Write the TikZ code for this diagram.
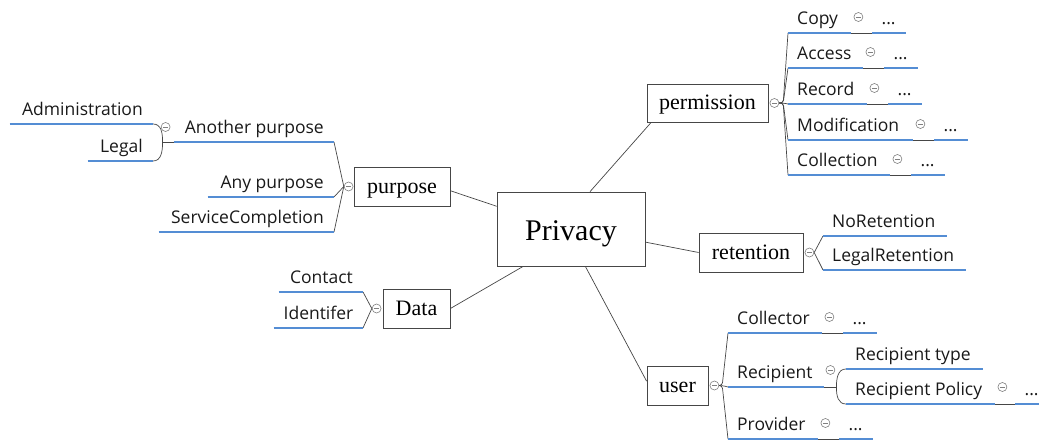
\documentclass[tikz,border=0pt]{standalone}
\usepackage{fontspec}
\setmainfont{Liberation Serif}
\newfontfamily\sansf{Open Sans}
\definecolor{ublue}{RGB}{84,141,212}
\definecolor{lgray}{RGB}{70,70,70}
\newcommand\rb[2]{\makebox[#1pt][r]{#2}}
\newcommand\lb[2]{\makebox[#1pt][l]{#2}}
\begin{document}
\begin{tikzpicture}[x=1pt,y=-1pt,
  box/.style={draw=lgray, line width=0.8pt, inner sep=0pt, fill=white, text height=14pt, text depth=0pt, font=\fontsize{22}{24}\selectfont},
  conn/.style={draw=lgray, line width=0.7pt},
  uline/.style={draw=ublue, line width=2.6pt},
  gline/.style={draw=lgray, line width=0.8pt},
  tog/.style={circle, draw=gray, fill=white, line width=0.6pt, minimum size=9pt, inner sep=0pt,
    path picture={\draw[gray, line width=0.6pt] ([xshift=2pt]path picture bounding box.west) -- ([xshift=-2pt]path picture bounding box.east);}},
  itemR/.style={anchor=south west, inner xsep=9pt, inner ysep=0pt, text height=13pt, text depth=8pt, font=\sansf\fontsize{17.5}{20}\selectfont, text=black!90},
  itemL/.style={anchor=south east, inner xsep=10pt, inner ysep=0pt, text height=13pt, text depth=8pt, font=\sansf\fontsize{17.5}{20}\selectfont, text=black!90},
  dots/.style={itemR},
]
\useasboundingbox (0,0) rectangle (1039,441);

% main boxes
\node[box, minimum width=148pt, minimum height=74pt, text height=22pt, font=\fontsize{30}{32}\selectfont] (privacy) at (571,229) {Privacy};
\node[box, minimum width=121pt, minimum height=38pt] (permission) at (707.5,103) {permission};
\node[box, minimum width=96pt, minimum height=39pt] (purpose) at (402,186.5) {purpose};
\node[box, minimum width=67pt, minimum height=39pt] (data) at (416.5,308.5) {Data};
\node[box, minimum width=104pt, minimum height=39pt] (retention) at (751,252.5) {retention};
\node[box, minimum width=61pt, minimum height=39pt] (user) at (677.5,385.5) {user};

% connectors to Privacy
\draw[conn] (purpose.-5) -- (privacy.163);
\draw[conn] (data.east) -- (privacy.218);
\draw[conn] (privacy.63) -- (permission.199);
\draw[conn] (privacy.-10) -- (retention.west);
\draw[conn] (privacy.-69) -- (user.172);

% toggles at boxes
\node[tog] (pc) at ([xshift=6pt]permission.east) {};
\node[tog] (puc) at ([xshift=-5pt]purpose.west) {};
\node[tog] (dc) at ([xshift=-6pt]data.west) {};
\node[tog] (rc) at ([xshift=6pt]retention.east) {};
\node[tog] (uc) at ([xshift=6pt]user.east) {};

% permission items
\node[itemR] (copy) at (788,33) {\lb{45}{Copy}};
\node[itemR] (access) at (788,68) {\lb{57}{Access}};
\node[itemR] (record) at (788,104) {\lb{61}{Record}};
\node[itemR] (modif) at (788,140) {\lb{107}{Modification}};
\node[itemR] (collect) at (788,175) {\lb{84}{Collection}};
\foreach \n in {copy,access,record,modif,collect}{
  \draw[conn, rounded corners=3pt] (pc.east) -- ++(4,0) -- (\n.south west);
  \draw[uline] (\n.south west) -- (\n.south east);
  \node[dots] (\n d) at ([xshift=21pt]\n.south east) {\lb{15}{...}};
  \draw[gline] (\n.south east) -- (\n d.south west);
  \draw[uline] (\n d.south west) -- (\n d.south east);
  \node[tog] (\n t) at ([shift={(7,-16)}]\n.south east) {};
}

% purpose items
\node[itemL] (another) at (334,142) {\rb{140}{Another purpose}};
\node[itemL] (any) at (334,197) {\rb{106}{Any purpose}};
\node[itemL] (service) at (334,232) {\rb{155}{ServiceCompletion}};
\foreach \n in {another,any,service}{
  \draw[conn] (puc.west) -- (\n.south east);
  \draw[uline] (\n.south west) -- (\n.south east);
}
\node[tog] (anothert) at ([shift={(-8,-15)}]another.south west) {};
\node[itemL] (adm) at (153,124) {\rb{123}{Administration}};
\node[itemL] (legal) at (153,161) {\rb{45}{Legal}};
\coordinate (ab) at ([xshift=-11pt]another.south west);
\draw[gline] (another.south west) -- (ab);
\draw[conn] (adm.south east) .. controls +(8,0) and +(0,-10) .. (ab) .. controls +(0,10) and +(8,0) .. (legal.south east);
\draw[uline] (adm.south west) -- (adm.south east);
\draw[uline] (legal.south west) -- (legal.south east);

% data items
\node[itemL] (contact) at (363,292) {\rb{64}{Contact}};
\node[itemL, inner xsep=9.5pt] (ident) at (363,328) {\rb{70}{Identifer}};
\foreach \n in {contact,ident}{
  \draw[conn] (dc.west) -- (\n.south east);
  \draw[uline] (\n.south west) -- (\n.south east);
}

% retention items
\node[itemR] (noret) at (823,236) {\lb{106}{NoRetention}};
\node[itemR] (legalret) at (823,270) {\lb{125}{LegalRetention}};
\foreach \n in {noret,legalret}{
  \draw[conn] (rc.east) -- (\n.south west);
  \draw[uline] (\n.south west) -- (\n.south east);
}

% user items
\node[itemR] (collector) at (728,333) {\lb{76}{Collector}};
\node[itemR] (recipient) at (728,387) {\lb{78}{Recipient}};
\node[itemR] (provider) at (728,439) {\lb{72}{Provider}};
\foreach \n in {collector,recipient,provider}{
  \draw[conn, rounded corners=3pt] (uc.east) -- ++(3,0) -- (\n.south west);
  \draw[uline] (\n.south west) -- (\n.south east);
}
\foreach \n in {collector,provider}{
  \node[dots] (\n d) at ([xshift=21pt]\n.south east) {\lb{15}{...}};
  \draw[gline] (\n.south east) -- (\n d.south west);
  \draw[uline] (\n d.south west) -- (\n d.south east);
  \node[tog] (\n t) at ([shift={(7,-16)}]\n.south east) {};
}
\node[tog] (recipientt) at ([shift={(6,-17)}]recipient.south east) {};
\node[itemR] (rtype) at (846,369) {\lb{119}{Recipient type}};
\node[itemR] (rpolicy) at (846,404) {\lb{131}{Recipient Policy}};
\coordinate (rb) at ([xshift=12pt]recipient.south east);
\draw[gline] (recipient.south east) -- (rb);
\draw[conn] (rtype.south west) .. controls +(-8,0) and +(0,-9) .. (rb) .. controls +(0,9) and +(-8,0) .. (rpolicy.south west);
\draw[uline] (rtype.south west) -- (rtype.south east);
\draw[uline] (rpolicy.south west) -- (rpolicy.south east);
\node[dots] (rpolicyd) at ([xshift=20pt]rpolicy.south east) {\lb{15}{...}};
\draw[gline] (rpolicy.south east) -- (rpolicyd.south west);
\draw[uline] (rpolicyd.south west) -- (rpolicyd.south east);
\node[tog] (rpolicyt) at ([shift={(7,-17)}]rpolicy.south east) {};
\end{tikzpicture}
\end{document}
